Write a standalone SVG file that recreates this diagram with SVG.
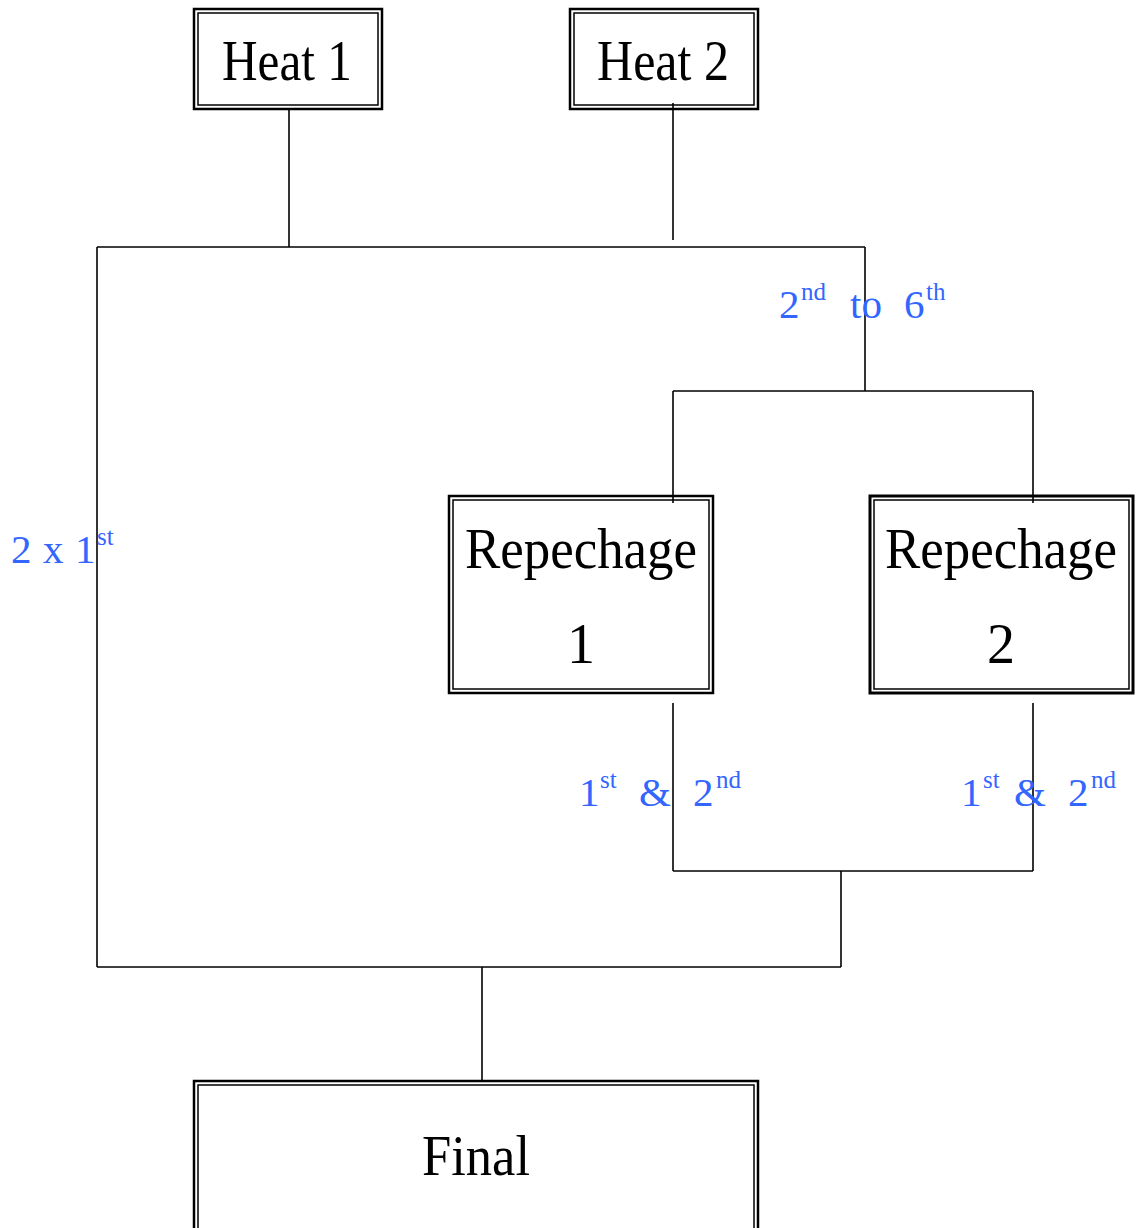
<svg xmlns="http://www.w3.org/2000/svg" width="1140" height="1228" viewBox="0 0 1140 1228">
<style>
.o{fill:#fff;stroke:#000;stroke-width:2.5}
.i{fill:none;stroke:#000;stroke-width:1.5}
.t{font-family:"Liberation Serif","Times New Roman",serif;fill:#000;font-size:56px}
.b{font-family:"Liberation Serif","Times New Roman",serif;fill:#3366ff;font-size:41px}
.s{font-size:25px}
#conn line{stroke:#000;stroke-width:1.6}
</style>
<rect width="1140" height="1228" fill="#fff"/>
<g id="heat1">
<rect class="o" x="194" y="9" width="188" height="100"/>
<rect class="i" x="198" y="13" width="180" height="92"/>
<text class="t" x="222" y="80" textLength="130" lengthAdjust="spacingAndGlyphs">Heat 1</text>
</g>
<g id="heat2">
<rect class="o" x="570" y="9" width="188" height="100"/>
<rect class="i" x="574" y="13" width="180" height="92"/>
<text class="t" x="597" y="80" textLength="132" lengthAdjust="spacingAndGlyphs">Heat 2</text>
</g>
<g id="rep1">
<rect class="o" x="449" y="496" width="264" height="197"/>
<rect class="i" x="453" y="500" width="256" height="189"/>
<text class="t" x="465" y="568" textLength="232" lengthAdjust="spacingAndGlyphs">Repechage</text>
<text class="t" x="581" y="663" text-anchor="middle">1</text>
</g>
<g id="rep2">
<rect class="o" x="870" y="496" width="263" height="197" style="stroke-width:3"/>
<rect class="i" x="874" y="500" width="255" height="189"/>
<text class="t" x="885" y="568" textLength="232" lengthAdjust="spacingAndGlyphs">Repechage</text>
<text class="t" x="1001" y="663" text-anchor="middle">2</text>
</g>
<g id="final">
<rect class="o" x="194" y="1081" width="564" height="155"/>
<rect class="i" x="198" y="1085" width="556" height="147"/>
<text class="t" x="422" y="1175" textLength="108" lengthAdjust="spacingAndGlyphs">Final</text>
</g>
<g id="conn">
<line x1="289" y1="110" x2="289" y2="247"/>
<line x1="673" y1="103" x2="673" y2="240"/>
<line x1="97" y1="247" x2="865" y2="247"/>
<line x1="97" y1="247" x2="97" y2="967"/>
<line x1="865" y1="247" x2="865" y2="391"/>
<line x1="673" y1="391" x2="1033" y2="391"/>
<line x1="673" y1="391" x2="673" y2="503"/>
<line x1="1033" y1="391" x2="1033" y2="503"/>
<line x1="673" y1="703" x2="673" y2="871"/>
<line x1="1033" y1="703" x2="1033" y2="871"/>
<line x1="673" y1="871" x2="1033" y2="871"/>
<line x1="841" y1="871" x2="841" y2="967"/>
<line x1="97" y1="967" x2="841" y2="967"/>
<line x1="482" y1="967" x2="482" y2="1080"/>
</g>
<g id="labels">
<text class="b" y="318"><tspan x="779">2</tspan><tspan class="s" x="801" y="300">nd</tspan><tspan x="850" y="318">to</tspan><tspan x="904">6</tspan><tspan class="s" x="926" y="300">th</tspan></text>
<text class="b" y="563"><tspan x="11">2</tspan><tspan x="43">x</tspan><tspan x="75">1</tspan><tspan class="s" x="97" y="545">st</tspan></text>
<text class="b" y="806"><tspan x="579">1</tspan><tspan class="s" x="600" y="788">st</tspan><tspan x="639" y="806">&amp;</tspan><tspan x="693">2</tspan><tspan class="s" x="716" y="788">nd</tspan></text>
<text class="b" y="806"><tspan x="961">1</tspan><tspan class="s" x="983" y="788">st</tspan><tspan x="1014" y="806">&amp;</tspan><tspan x="1068">2</tspan><tspan class="s" x="1091" y="788">nd</tspan></text>
</g>
</svg>
